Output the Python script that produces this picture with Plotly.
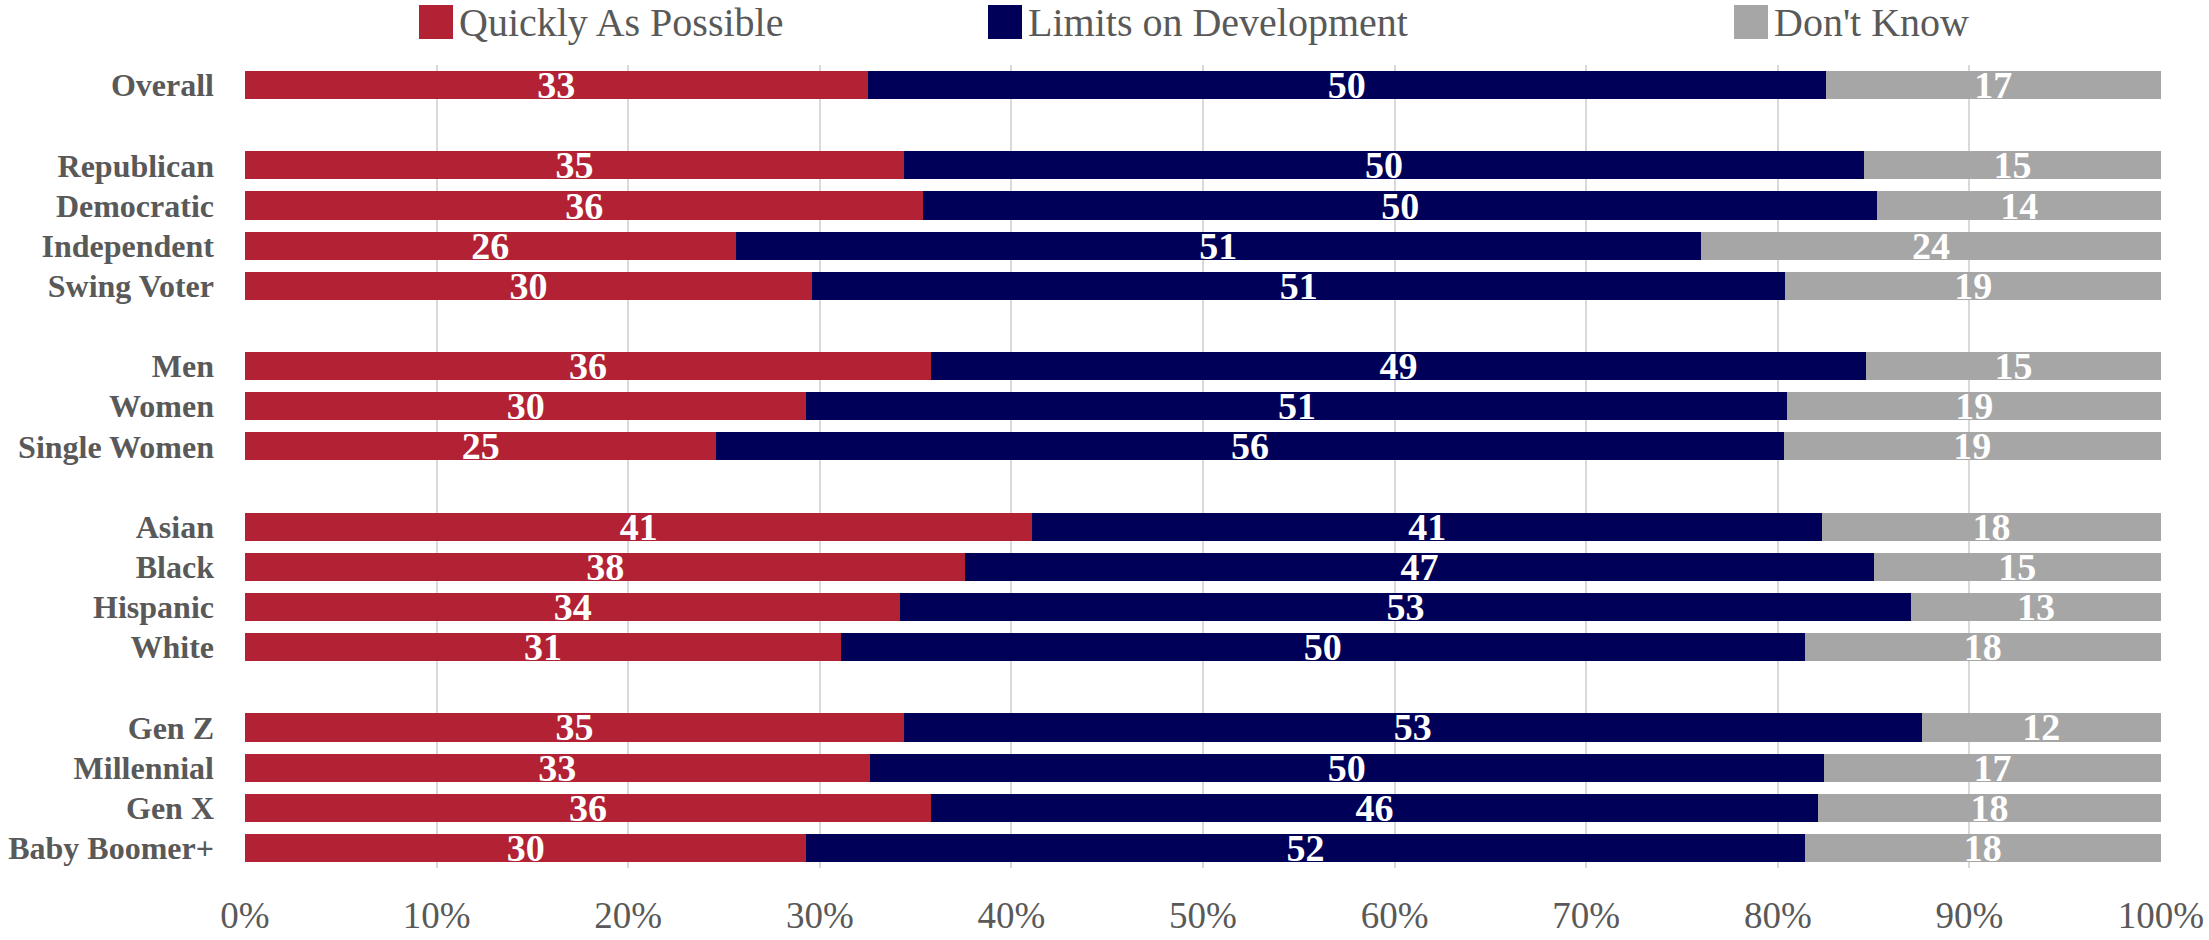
import plotly.graph_objects as go

# ---------------- data ----------------
categories = ["Overall",
              "Republican", "Democratic", "Independent", "Swing Voter",
              "Men", "Women", "Single Women",
              "Asian", "Black", "Hispanic", "White",
              "Gen Z", "Millennial", "Gen X", "Baby Boomer+"]
group_sizes = [1, 4, 3, 4, 4]

series_names = ["Quickly As Possible", "Limits on Development", "Don't Know"]

quickly = [32.5, 34.4, 35.4, 25.6, 29.6, 35.8, 29.3, 24.6,
           41.1, 37.6, 34.2, 31.1, 34.4, 32.6, 35.8, 29.3]
limits = [50.0, 50.1, 49.8, 50.4, 50.8, 48.8, 51.2, 55.7,
          41.2, 47.4, 52.75, 50.3, 53.1, 49.8, 46.3, 52.1]
dont_know = [17.5, 15.5, 14.8, 24.0, 19.6, 15.4, 19.5, 19.7,
             17.7, 15.0, 13.05, 18.6, 12.5, 17.6, 17.9, 18.6]

quickly_labels = [33, 35, 36, 26, 30, 36, 30, 25, 41, 38, 34, 31, 35, 33, 36, 30]
limits_labels = [50, 50, 50, 51, 51, 49, 51, 56, 41, 47, 53, 50, 53, 50, 46, 52]
dont_know_labels = [17, 15, 14, 24, 19, 15, 19, 19, 18, 15, 13, 18, 12, 17, 18, 18]

x_tick_values = [0, 10, 20, 30, 40, 50, 60, 70, 80, 90, 100]
x_tick_labels = ["0%", "10%", "20%", "30%", "40%", "50%",
                 "60%", "70%", "80%", "90%", "100%"]

colors = ["#B22234", "#000058", "#A6A6A6"]

# ---------------- layout constants ----------------
W, H = 2209, 940
ML, MR, MT, MB = 245, 48, 65, 72
PW, PH = W - ML - MR, H - MT - MB
FONT = "Liberation Serif"
TXT = "#595959"

# build rows with blank spacer rows between groups
rows = []          # (label, index or None)
idx = 0
for g, size in enumerate(group_sizes):
    if g > 0:
        rows.append((" " * g, None))
    for _ in range(size):
        rows.append((categories[idx], idx))
        idx += 1

y_cats = [r[0] for r in rows]


def expand(values, labels):
    vals, txt = [], []
    for _, i in rows:
        if i is None:
            vals.append(None)
            txt.append("")
        else:
            vals.append(values[i])
            txt.append(str(labels[i]))
    return vals, txt


fig = go.Figure()
for name, vals, labs, col in zip(series_names,
                                 [quickly, limits, dont_know],
                                 [quickly_labels, limits_labels, dont_know_labels],
                                 colors):
    v, t = expand(vals, labs)
    fig.add_trace(go.Bar(
        y=y_cats, x=v, name=name, orientation="h",
        marker=dict(color=col, line=dict(width=0)),
        text=t, textposition="inside", insidetextanchor="middle",
        textangle=0, constraintext="none",
        textfont=dict(family=FONT, size=38, color="white", weight=700),
        hoverinfo="x+y+name",
        showlegend=False,
    ))


# legend drawn as squares + text (sized like the reference)
def px_x(p):
    return (p - ML) / PW


def px_y(p):
    return 1 + (MT - p) / PH


legend_left = [419, 988, 1734]
sq = 34
shapes, annotations = [], []
for name, col, left in zip(series_names, colors, legend_left):
    shapes.append(dict(type="rect", xref="paper", yref="paper",
                       x0=px_x(left), x1=px_x(left + sq),
                       y0=px_y(5 + sq), y1=px_y(5),
                       fillcolor=col, line=dict(width=0), layer="above"))
    annotations.append(dict(xref="paper", yref="paper",
                            x=px_x(left + sq + 4), y=px_y(22),
                            xanchor="left", yanchor="middle",
                            text=name, showarrow=False,
                            font=dict(family=FONT, size=40, color=TXT)))

fig.update_layout(
    width=W, height=H,
    margin=dict(l=ML, r=MR, t=MT, b=MB, pad=0),
    barmode="stack", bargap=0.3,
    plot_bgcolor="white", paper_bgcolor="white",
    font=dict(family=FONT, color=TXT),
    shapes=shapes, annotations=annotations,
    showlegend=False,
    xaxis=dict(range=[0, 100], tickmode="array", tickvals=x_tick_values,
               ticktext=x_tick_labels, automargin=False,
               showgrid=True, gridcolor="#D9D9D9", gridwidth=2,
               zeroline=False, showline=False, ticks="",
               ticklabelstandoff=22,
               tickfont=dict(family=FONT, size=37, color=TXT)),
    yaxis=dict(type="category", categoryorder="array", categoryarray=y_cats,
               autorange="reversed", automargin=False,
               showgrid=False, zeroline=False,
               showline=False, ticks="", ticklabelstandoff=30,
               tickfont=dict(family=FONT, size=32, color=TXT, weight=700)),
)

fig.write_html("out.html",
               config={"displayModeBar": False},
               post_script="document.body.style.margin='0';"
                           "document.body.style.overflow='hidden';")
